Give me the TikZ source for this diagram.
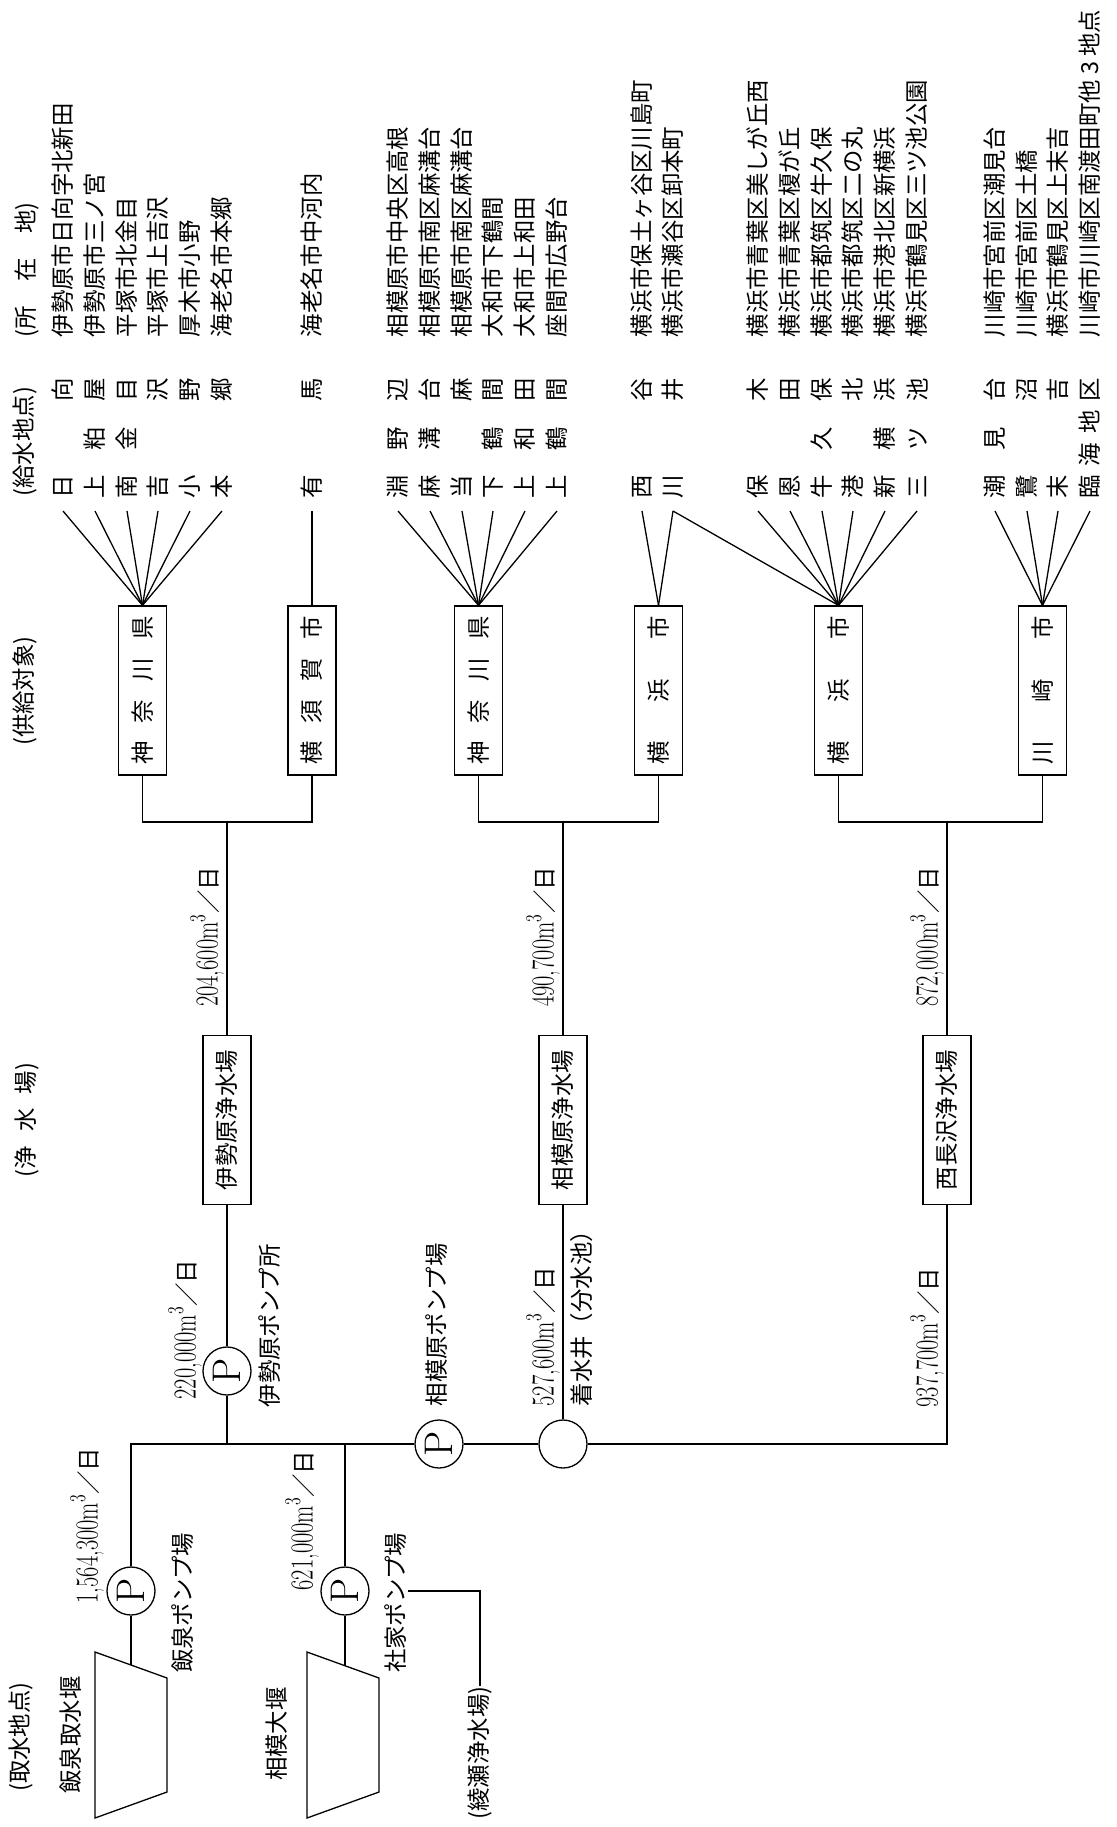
\documentclass[tikz,border=0pt]{standalone}
\usepackage{fontspec}
\newfontfamily\jpfont{Noto Sans CJK JP}
\usepackage{graphicx}
\usepackage{tikz}
\usetikzlibrary{calc}
\newlength{\pxl}
\setlength{\pxl}{0.5pt}
\newcommand{\jp}{\fontsize{11.7}{12}\selectfont\jpfont}
\newcommand{\flowtext}[1]{\scalebox{0.7}[1]{\fontsize{16}{16}\selectfont\rmfamily #1}{\jp ／日}}
\newcommand{\spreadbox}[2]{\makebox[#1\pxl][s]{#2}}
\tikzset{
  vtext/.style={rotate=90, inner sep=0pt, font=\jp},
  headnode/.style={vtext},
  placenode/.style={vtext, anchor=west},
  flowlabel/.style={rotate=90, inner sep=0pt},
  namebox/.style={
    draw, rotate=90, font=\jp, inner sep=0pt,
    minimum width=169\pxl, minimum height=48\pxl
  },
  pumpnode/.style={
    draw, circle, rotate=90, inner sep=0pt, minimum size=48\pxl,
    font=\fontsize{20}{20}\selectfont\rmfamily
  },
  wellnode/.style={draw, circle, minimum size=48\pxl, inner sep=0pt},
}

\begin{document}
\begin{tikzpicture}[x=0.5pt, y=-0.5pt, line width=0.65pt]
  \useasboundingbox (0,0) rectangle (1117,1827);

  % column heads
  \node[headnode] (h1) at (21,1737) {(取水地点)};
  \node[headnode] (h2) at (27,1120) {\spreadbox{114}{(浄 水 場)}};
  \node[headnode] (h3) at (25,691) {(供給対象)};
  \node[headnode, anchor=west] (h4) at (25,497) {(給水地点)};
  \node[headnode, anchor=west] (h5) at (27,338) {\spreadbox{135}{(所 在 地)}};

  % supply points and addresses
  \foreach \i/\xx/\spot/\addr in {
    1/63/{日 向}/伊勢原市日向字北新田,
    2/95/{上 粕 屋}/伊勢原市三ノ宮,
    3/127/{南 金 目}/平塚市北金目,
    4/158/{吉 沢}/平塚市上吉沢,
    5/190/{小 野}/厚木市小野,
    6/222/{本 郷}/海老名市本郷,
    7/312/{有 馬}/海老名市中河内,
    8/398/{淵 野 辺}/相模原市中央区高根,
    9/430/{麻 溝 台}/相模原市南区麻溝台,
    10/462/{当 麻}/相模原市南区麻溝台,
    11/493/{下 鶴 間}/大和市下鶴間,
    12/525/{上 和 田}/大和市上和田,
    13/557/{上 鶴 間}/座間市広野台,
    14/642/{西 谷}/横浜市保土ヶ谷区川島町,
    15/673/{川 井}/横浜市瀬谷区卸本町,
    16/758/{保 木}/横浜市青葉区美しが丘西,
    17/790/{恩 田}/横浜市青葉区榎が丘,
    18/822/{牛 久 保}/横浜市都筑区牛久保,
    19/853/{港 北}/横浜市都筑区二の丸,
    20/885/{新 横 浜}/横浜市港北区新横浜,
    21/917/{三 ツ 池}/横浜市鶴見区三ツ池公園,
    22/995/{潮 見 台}/川崎市宮前区潮見台,
    23/1027/{鷺 沼}/川崎市宮前区土橋,
    24/1058/{末 吉}/横浜市鶴見区上末吉,
    25/1090/{臨 海 地 区}/{川崎市川崎区南渡田町他 3 地点}}
  {
    \node[placenode] (s\i) at (\xx,499) {\spreadbox{120}{\spot}};
    \node[placenode] (a\i) at (\xx,338) {\addr};
  }

  % supply targets
  \node[namebox] (kb1) at (142.5,690.5) {\spreadbox{148}{神 奈 川 県}};
  \node[namebox] (yk)  at (312,690.5)   {\spreadbox{148}{横 須 賀 市}};
  \node[namebox] (kb2) at (478.5,690.5) {\spreadbox{148}{神 奈 川 県}};
  \node[namebox] (yb1) at (658.5,690.5) {\spreadbox{148}{横 浜 市}};
  \node[namebox] (yb2) at (838.5,690.5) {\spreadbox{148}{横 浜 市}};
  \node[namebox] (kw)  at (1042.5,690.5) {\spreadbox{148}{川 崎 市}};

  \foreach \i in {1,...,6} \draw (kb1.east) -- ($(s\i.west)+(0,12)$);
  \draw (yk.east) -- ($(s7.west)+(0,12)$);
  \foreach \i in {8,...,13} \draw (kb2.east) -- ($(s\i.west)+(0,12)$);
  \foreach \i in {14,15} \draw (yb1.east) -- ($(s\i.west)+(0,12)$);
  \foreach \i in {15,...,21} \draw (yb2.east) -- ($(s\i.west)+(0,12)$);
  \foreach \i in {22,...,25} \draw (kw.east) -- ($(s\i.west)+(0,12)$);

  % treatment plants
  \node[namebox] (ise) at (227,1120) {伊勢原浄水場};
  \node[namebox] (sag) at (563,1120) {相模原浄水場};
  \node[namebox] (nis) at (947,1120) {西長沢浄水場};

  \coordinate (j1) at (227,822);
  \coordinate (j2) at (563,822);
  \coordinate (j3) at (947,822);
  \draw (kb1.west) |- (j1) -| (yk.west);
  \draw (kb2.west) |- (j2) -| (yb1.west);
  \draw (yb2.west) |- (j3) -| (kw.west);
  \draw (j1) -- (ise);
  \draw (j2) -- (sag);
  \draw (j3) -- (nis);

  \node[flowlabel] (f1) at (207,937) {\flowtext{204,600m\textsuperscript{3}}};
  \node[flowlabel] (f2) at (543,937) {\flowtext{490,700m\textsuperscript{3}}};
  \node[flowlabel] (f3) at (927,937) {\flowtext{872,000m\textsuperscript{3}}};

  % pumps and main line
  \node[pumpnode] (pise) at (227,1371) {P};
  \node[pumpnode] (psag) at (439,1444) {P};
  \node[wellnode] (well) at (563,1444) {};
  \node[pumpnode] (pizumi) at (131,1591) {P};
  \node[pumpnode] (pshake) at (345,1591) {P};
  \coordinate (jise) at (227,1444);

  \draw (ise) -- (pise);
  \draw (pise) -- (jise);
  \draw (pizumi) |- (psag);
  \draw (pshake) -- (pshake |- jise);
  \draw (psag) -- (well);
  \draw (well) -- (sag);
  \draw (well) -| (nis);

  % intake weirs
  \draw (95,1652) -- (167,1678) -- (167,1792) -- (95,1818) -- cycle;
  \draw (307,1652) -- (379,1678) -- (379,1792) -- (307,1818) -- cycle;
  \coordinate (izumiweir) at (131,1665);
  \coordinate (sagweir) at (345,1666);
  \draw (pizumi) -- (izumiweir);
  \draw (pshake) -- (sagweir);

  % Annotations
  \node[flowlabel, anchor=west] (f4) at (185,1400) {\flowtext{220,000m\textsuperscript{3}}};
  \node[vtext, anchor=west] (lise) at (270,1408) {伊勢原ポンプ所};
  \node[vtext, anchor=west] (lsag) at (437,1407) {相模原ポンプ場};
  \node[flowlabel, anchor=west] (f5) at (543,1407) {\flowtext{527,600m\textsuperscript{3}}};
  \node[vtext, anchor=west] (lwell) at (582,1407) {着水井（分水池）};
  \node[flowlabel, anchor=west] (f6) at (927,1408) {\flowtext{937,700m\textsuperscript{3}}};
  \node[flowlabel, anchor=east] (f7) at (87,1447) {\flowtext{1,564,300m\textsuperscript{3}}};
  \node[flowlabel, anchor=east] (f8) at (302,1450) {\flowtext{621,000m\textsuperscript{3}}};
  \node[vtext] (lizumi) at (183,1603) {飯泉ポンプ場};
  \node[vtext] (lshake) at (396,1603) {社家ポンプ場};
  \node[vtext] (weir1) at (71,1735) {飯泉取水堰};
  \node[vtext] (weir2) at (277,1734) {相模大堰};
  \node[vtext] (ayase) at (480,1753) {(綾瀬浄水場)};
  \draw (lshake.south |- pshake) -| (ayase.east);
\end{tikzpicture}
\end{document}
